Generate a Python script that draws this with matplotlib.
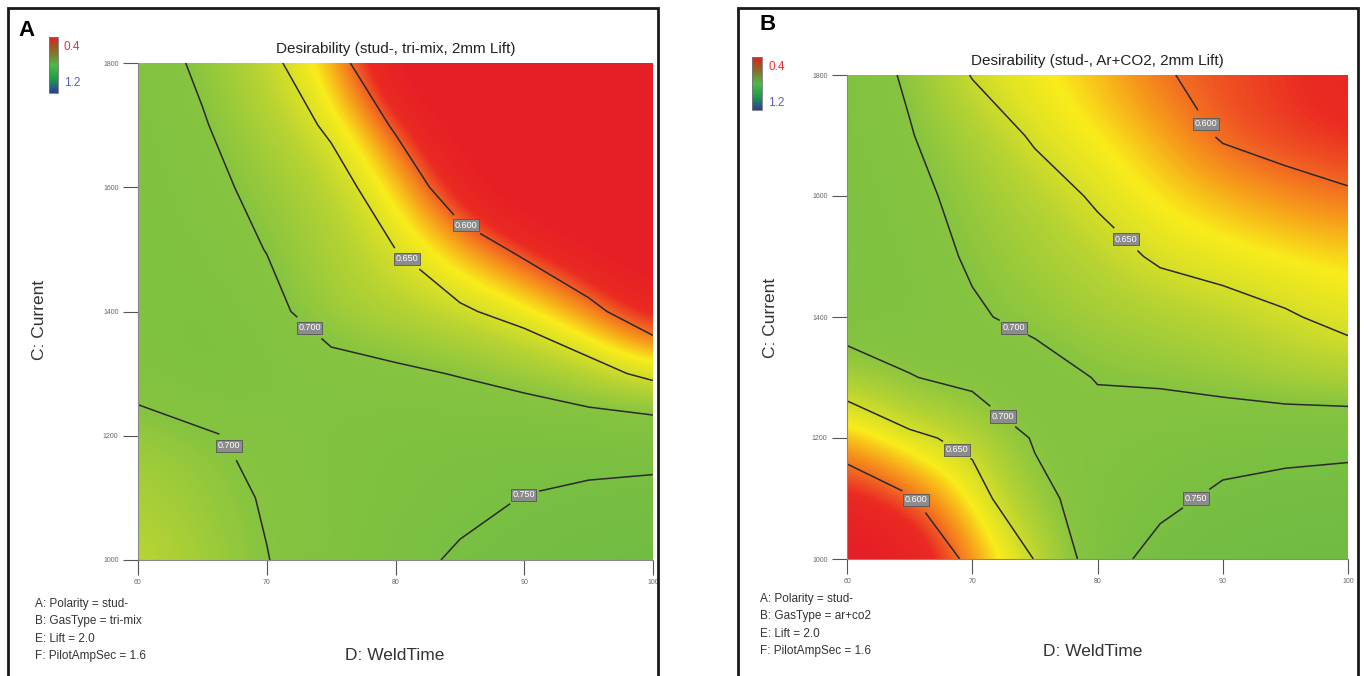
import numpy as np
import matplotlib
matplotlib.use('Agg')
import matplotlib.pyplot as plt
from matplotlib.colors import LinearSegmentedColormap, Normalize
from matplotlib.colorbar import ColorbarBase
from matplotlib.patches import Rectangle

plt.rcParams['font.family'] = ['Liberation Sans', 'DejaVu Sans']

# grid of the response surface
weld_time = [60, 65, 70, 75, 80, 85, 90, 95, 100]
current = [1000, 1100, 1200, 1300, 1400, 1500, 1600, 1700, 1800]

# panel A: stud-, tri-mix (rows = current, cols = weld time)
desir_a = [
    [0.660, 0.680, 0.699, 0.720, 0.738, 0.755, 0.768, 0.778, 0.785],
    [0.675, 0.686, 0.703, 0.718, 0.730, 0.740, 0.751, 0.758, 0.762],
    [0.685, 0.695, 0.710, 0.720, 0.728, 0.732, 0.733, 0.730, 0.730],
    [0.715, 0.735, 0.725, 0.715, 0.707, 0.698, 0.685, 0.665, 0.640],
    [0.725, 0.730, 0.712, 0.680, 0.668, 0.655, 0.637, 0.610, 0.575],
    [0.728, 0.720, 0.699, 0.675, 0.650, 0.620, 0.593, 0.565, 0.530],
    [0.728, 0.710, 0.690, 0.665, 0.628, 0.575, 0.530, 0.490, 0.450],
    [0.725, 0.703, 0.673, 0.644, 0.595, 0.545, 0.500, 0.460, 0.430],
    [0.720, 0.693, 0.660, 0.620, 0.553, 0.500, 0.460, 0.430, 0.400],
]

# panel B: stud-, Ar+CO2
desir_b = [
    [0.530, 0.560, 0.610, 0.651, 0.723, 0.771, 0.780, 0.785, 0.788],
    [0.580, 0.597, 0.632, 0.688, 0.718, 0.735, 0.761, 0.768, 0.772],
    [0.615, 0.642, 0.660, 0.704, 0.715, 0.722, 0.725, 0.732, 0.735],
    [0.672, 0.698, 0.712, 0.718, 0.698, 0.695, 0.688, 0.675, 0.668],
    [0.725, 0.725, 0.705, 0.690, 0.680, 0.672, 0.663, 0.653, 0.642],
    [0.730, 0.718, 0.695, 0.680, 0.664, 0.645, 0.638, 0.632, 0.628],
    [0.728, 0.710, 0.688, 0.668, 0.645, 0.630, 0.620, 0.610, 0.603],
    [0.725, 0.702, 0.676, 0.645, 0.632, 0.618, 0.597, 0.590, 0.585],
    [0.720, 0.695, 0.648, 0.635, 0.622, 0.602, 0.594, 0.588, 0.578],
]

levels_a = [0.60, 0.65, 0.70, 0.75]
levels_b = [0.60, 0.65, 0.70, 0.75]

# where the level boxes sit on the lines
label_pos_a = [(85.8, 1550), (81.0, 1488), (72.6, 1357), (67.0, 1183), (90.0, 1103)]
label_pos_b = [(87.9, 1709), (82.2, 1527), (72.9, 1365), (73.0, 1250),
               (68.9, 1185), (64.9, 1089), (87.8, 1102)]

titles = ['Desirability (stud-, tri-mix, 2mm Lift)', 'Desirability (stud-, Ar+CO2, 2mm Lift)']
factors_a = ['A: Polarity = stud-', 'B: GasType = tri-mix', 'E: Lift = 2.0', 'F: PilotAmpSec = 1.6']
factors_b = ['A: Polarity = stud-', 'B: GasType = ar+co2', 'E: Lift = 2.0', 'F: PilotAmpSec = 1.6']

surf_cmap = LinearSegmentedColormap.from_list('surf', [
    (0.00, '#e61e26'), (0.14, '#ea2a22'), (0.20, '#f26522'), (0.26, '#f7a11a'),
    (0.33, '#f9ec1b'), (0.46, '#b9d432'), (0.60, '#86c440'), (1.00, '#6cbb44')])
norm = Normalize(0.55, 0.80)
legend_cmap = LinearSegmentedColormap.from_list('leg', ['#2b3a9a', '#1f9a4a', '#4cb848', '#8a6a2a', '#e0201f'])

fig = plt.figure(figsize=(13.64, 6.76), dpi=100)

# panel frames
fig.add_artist(Rectangle((8 / 1364, -0.01), 650 / 1364, 1 - 8 / 676 + 0.01, transform=fig.transFigure,
                         fill=False, edgecolor='#1a1a1a', linewidth=2))
fig.add_artist(Rectangle((738 / 1364, -0.01), 620 / 1364, 1 - 8 / 676 + 0.01, transform=fig.transFigure,
                         fill=False, edgecolor='#1a1a1a', linewidth=2))


def px(x, y):
    return x / 1364, 1 - y / 676


def draw_panel(rect, z, levels, label_pos, title, factors, bar_rect, leg_xy, factor_xy, xlab_xy, ylab_xy):
    ax = fig.add_axes(rect)
    z = np.array(z)
    # nodes sit at pixel centres, so half a step beyond the axis limits
    ax.imshow(z, origin='lower', extent=[57.5, 102.5, 950, 1850], aspect='auto',
              cmap=surf_cmap, norm=norm, interpolation='bicubic')
    cs = ax.contour(weld_time, current, z, levels=levels, colors='#2a2a2a', linewidths=1.1)
    labels = ax.clabel(cs, fmt='%.3f', fontsize=6.5, manual=label_pos, inline=True, inline_spacing=3)
    for t in labels:
        t.set_rotation(0)
        t.set_color('white')
        t.set_bbox(dict(facecolor='#8c8c8c', edgecolor='#555555', pad=1.2, linewidth=0.6))
    ax.set_xlim(60, 100)
    ax.set_ylim(1000, 1800)
    ax.set_xticks([60, 70, 80, 90, 100])
    ax.set_yticks([1000, 1200, 1400, 1600, 1800])
    for s in ['top', 'right']:
        ax.spines[s].set_visible(False)
    for s in ['left', 'bottom']:
        ax.spines[s].set_color('#888888')
        ax.spines[s].set_linewidth(0.8)
    ax.tick_params(length=11, width=0.8, color='#555555', labelsize=5, labelcolor='#666666', pad=3)
    ax.set_title(title, fontsize=11, color='#222222', pad=7)

    fig.text(*px(*ylab_xy), 'C: Current', rotation=90, fontsize=12.5, color='#333333', va='center', ha='center')
    fig.text(*px(*xlab_xy), 'D: WeldTime', fontsize=12.5, color='#333333', va='center', ha='center')
    for i, line in enumerate(factors):
        fig.text(*px(factor_xy[0], factor_xy[1] + i * 17.3), line, fontsize=8.5, color='#333333',
                 va='center', ha='left')

    cax = fig.add_axes([bar_rect[0] / 1364, 1 - (bar_rect[1] + bar_rect[3]) / 676,
                        bar_rect[2] / 1364, bar_rect[3] / 676])
    ColorbarBase(cax, cmap=legend_cmap, orientation='vertical')
    cax.set_xticks([])
    cax.set_yticks([])
    for s in cax.spines.values():
        s.set_color('#777777')
        s.set_linewidth(0.6)
    fig.text(*px(leg_xy[0], leg_xy[1]), '0.4', fontsize=8.5, color='#ee3030', va='center', ha='left')
    fig.text(*px(leg_xy[0], leg_xy[1] + 36), '1.2', fontsize=8.5, color='#5a5ad0', va='center', ha='left')
    return ax


draw_panel([138 / 1364, 1 - 560 / 676, 515 / 1364, 497 / 676], desir_a, levels_a, label_pos_a, titles[0], factors_a,
           (49, 37, 9, 56), (64, 47), (35, 604), (395, 655), (40, 320))
draw_panel([847 / 1364, 1 - 559 / 676, 501 / 1364, 484 / 676], desir_b, levels_b, label_pos_b, titles[1], factors_b,
           (752, 57, 10, 53), (768, 67), (760, 599), (1093, 651), (770, 318))

fig.text(*px(18, 30), 'A', fontsize=16, fontweight='bold', va='center', ha='left')
fig.text(*px(760, 25), 'B', fontsize=16, fontweight='bold', va='center', ha='left')

fig.savefig('out.png', dpi=100)
